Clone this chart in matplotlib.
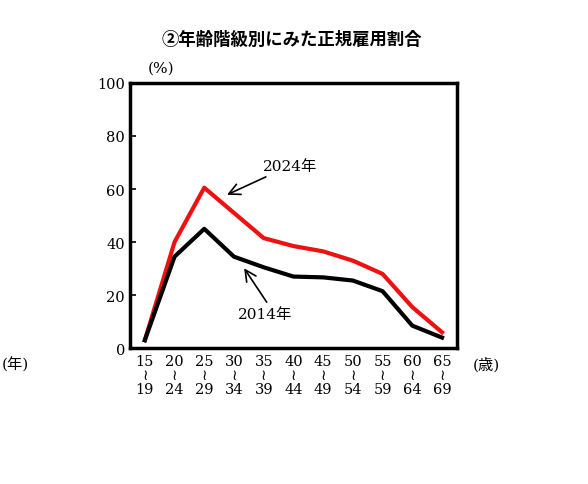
import matplotlib
matplotlib.use("Agg")
from matplotlib import pyplot as plt

ages_from = ["15", "20", "25", "30", "35", "40", "45", "50", "55", "60", "65"]
ages_to = ["19", "24", "29", "34", "39", "44", "49", "54", "59", "64", "69"]
rate_2024 = [3, 40, 60.5, 51, 41.5, 38.5, 36.5, 33, 28, 15.5, 6]
rate_2014 = [3, 34.5, 45, 34.5, 30.5, 27, 26.7, 25.5, 21.5, 8.5, 4]

serif = ["DejaVu Serif", "Noto Sans CJK JP", "DejaVu Sans"]
gothic = ["Noto Sans CJK JP", "DejaVu Sans"]

fig = plt.figure(figsize=(5.88, 4.85), dpi=100)
ax = fig.add_axes([0.221, 0.280, 0.556, 0.547])
x = list(range(len(ages_from)))
ax.plot(x, rate_2024, color="#ee1111", lw=3)
ax.plot(x, rate_2014, color="black", lw=3)
ax.set_xlim(-0.5, len(x) - 0.5)
ax.set_ylim(0, 100)
ax.set_yticks(range(0, 101, 20))
ax.set_xticks(x)
ax.set_xticklabels([f"{a}\n≀\n{b}" for a, b in zip(ages_from, ages_to)],
                   family=serif, fontsize=10.5, linespacing=1.0)
for lab in ax.get_yticklabels():
    lab.set_family(serif)
    lab.set_fontsize(10.5)
ax.tick_params(axis="x", length=0, pad=4)
ax.tick_params(axis="y", direction="in", length=4, width=1.2)
for s in ax.spines.values():
    s.set_linewidth(2.5)

ax.annotate("2024年", xy=(2.68, 57.4), xytext=(3.96, 68.7), family=serif,
            fontsize=11, va="center",
            arrowprops=dict(arrowstyle="->", lw=1.2, color="black", mutation_scale=20))
ax.annotate("2014年", xy=(3.29, 31), xytext=(3.12, 12.8), family=serif,
            fontsize=11, va="center",
            arrowprops=dict(arrowstyle="->", lw=1.2, color="black", mutation_scale=20,
                            relpos=(0.6, 1.0)))

fig.text(292 / 588, 1 - 40 / 485, "②年齢階級別にみた正規雇用割合", family=gothic,
         fontsize=12.5, fontweight="bold", ha="center", va="center")
fig.text(161 / 588, 1 - 69 / 485, "(%)", family=serif, fontsize=11, ha="center", va="center")
fig.text(15 / 588, 1 - 365 / 485, "(年)", family=serif, fontsize=11, ha="center", va="center")
fig.text(486 / 588, 1 - 365 / 485, "(歳)", family=serif, fontsize=11, ha="center", va="center")

fig.savefig("out.png", dpi=100)
